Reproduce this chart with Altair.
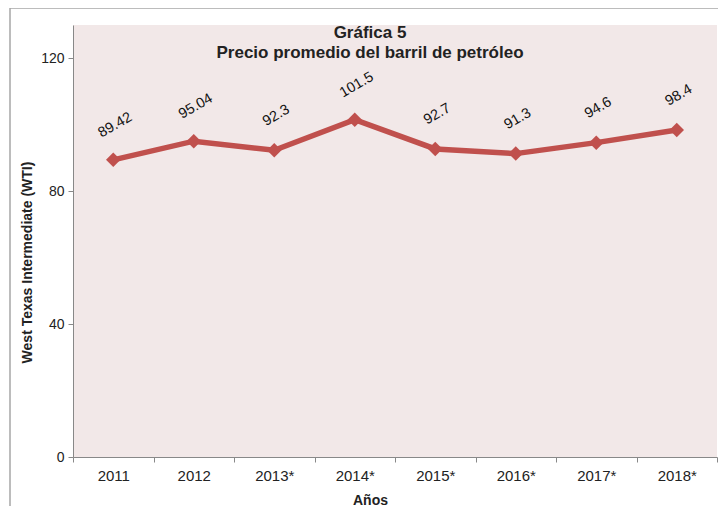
import altair as alt
import pandas as pd

years = ["2011", "2012", "2013*", "2014*", "2015*", "2016*", "2017*", "2018*"]
prices = [89.42, 95.04, 92.3, 101.5, 92.7, 91.3, 94.6, 98.4]
labels = ["89.42", "95.04", "92.3", "101.5", "92.7", "91.3", "94.6", "98.4"]
title_lines = ["Gráfica 5", "Precio promedio del barril de petróleo"]

df = pd.DataFrame({"year": years, "price": prices, "label": labels})

RED = "#c0504d"
FONT = "Liberation Sans"

x = alt.X("year:N", sort=years, scale=alt.Scale(paddingInner=0, paddingOuter=0),
          axis=alt.Axis(title="Años", labelAngle=0, tickBand="extent", titleFontWeight="bold",
                        titleFontSize=14, titleX=297, titleY=36, titleBaseline="top",
                        labelFontSize=15, labelPadding=6, titleFont=FONT, labelFont=FONT,
                        domainColor="#888888", tickColor="#888888", labelColor="#222222",
                        titleColor="#222222", tickSize=5))
y = alt.Y("price:Q", scale=alt.Scale(domain=[0, 130], nice=False),
          axis=alt.Axis(title="West Texas Intermediate (WTI)", values=[0, 40, 80, 120],
                        grid=False, titleFontWeight="bold", titleFontSize=14, titleX=-39,
                        titleY=237, labelFontSize=14, labelFont=FONT, titleFont=FONT,
                        domainColor="#888888", tickColor="#888888", labelColor="#222222",
                        titleColor="#222222", tickSize=5, labelPadding=4))

base = alt.Chart(df)

line = base.mark_line(color=RED, strokeWidth=5.5).encode(x=x, y=y)
pts = base.mark_point(shape="diamond", filled=True, color=RED, size=210, opacity=1).encode(x=x, y=y)
txt = base.mark_text(angle=330, fontSize=14.5, font=FONT, color="#111111", dx=19, dy=-29,
                     align="center", baseline="middle").encode(x=x, y=y, text="label:N")

tdf = pd.DataFrame({"t": title_lines, "yy": [8, 28]})
ttl = alt.Chart(tdf).mark_text(fontSize=17, fontWeight="bold", font=FONT, color="#222222",
                               align="center", baseline="middle").encode(
    x=alt.value(297), y=alt.Y("yy:Q", scale=None), text="t:N")

frame = alt.Chart(pd.DataFrame({"a": [0]})).mark_rect(fill=None, stroke="#a6a6a6", strokeWidth=1.5).encode(
    x=alt.value(-63), x2=alt.value(700), y=alt.value(-17), y2=alt.value(600))

chart = alt.layer(frame, line, pts, txt, ttl).properties(
    width=644, height=432,
    autosize=alt.AutoSizeParams(type="none"),
    padding={"left": 65, "top": 17, "right": 1, "bottom": 49},
    background="white",
).configure_view(fill="#f2e8e8", stroke=None)

chart.save("out.html", embed_options={"renderer": "svg", "actions": False})
